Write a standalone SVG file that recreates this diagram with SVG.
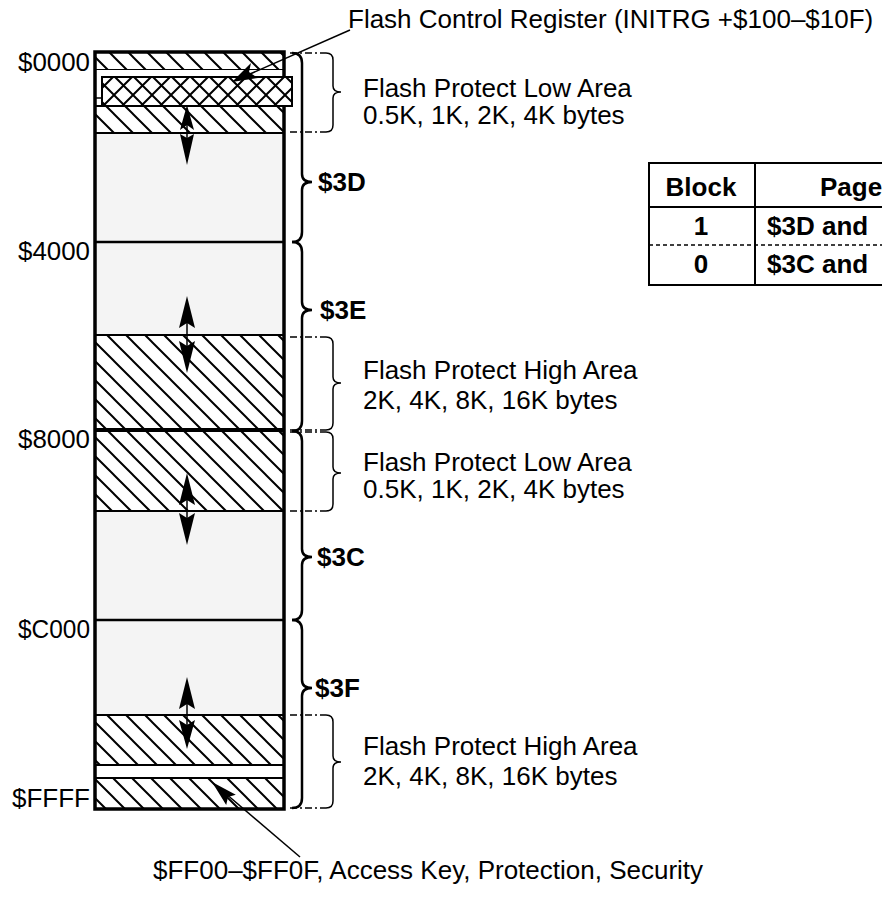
<svg xmlns="http://www.w3.org/2000/svg" width="882" height="909" viewBox="0 0 882 909">
<style>
text{font-family:"Liberation Sans",Arial,sans-serif;fill:#000}
.t{font-size:26px}
.b{font-size:26px;font-weight:bold}
.ln{stroke:#000;stroke-width:2.5;fill:none}
.thin{stroke:#000;stroke-width:1.5;fill:none}
.dd{stroke:#000;stroke-width:1.3;fill:none;stroke-dasharray:7,3,2,3}
.br{stroke:#000;stroke-width:2.5;fill:none}
.sbr{stroke:#000;stroke-width:1.5;fill:none}
.hd{fill:#000;stroke:none}
.hatch{fill:url(#h);stroke:#000;stroke-width:2}
</style>
<defs>
<pattern id="h" width="19" height="19" patternUnits="userSpaceOnUse">
<rect width="19" height="19" fill="#fff"/>
<path d="M0,0L19,19M-3,16L3,22M16,-3L22,3" stroke="#000" stroke-width="2"/>
</pattern>
<pattern id="x" width="19" height="19" patternUnits="userSpaceOnUse">
<rect width="19" height="19" fill="#fff"/>
<path d="M0,0L19,19M-3,16L3,22M16,-3L22,3M19,0L0,19M-3,3L3,-3M16,22L22,16" stroke="#000" stroke-width="2"/>
</pattern>
</defs>

<g id="memory-map">
<rect x="95" y="52" width="189" height="757" fill="#f4f4f4" stroke="none"/>
<rect class="hatch" x="95" y="52" width="189" height="18"/>
<rect x="95" y="70" width="189" height="36" fill="#fff"/>
<rect class="hatch" x="95" y="106" width="189" height="27"/>
<rect class="hatch" x="95" y="335" width="189" height="95"/>
<rect class="hatch" x="95" y="430" width="189" height="81"/>
<rect class="hatch" x="95" y="715" width="189" height="50"/>
<rect x="95" y="765" width="189" height="13" fill="#fff" stroke="#000" stroke-width="2"/>
<rect class="hatch" x="95" y="778" width="189" height="31"/>
<line class="ln" x1="95" y1="242" x2="284" y2="242"/>
<line class="ln" x1="95" y1="620" x2="284" y2="620"/>
<line x1="95" y1="430" x2="284" y2="430" stroke="#000" stroke-width="4"/>
<rect x="95" y="52" width="189" height="757" fill="none" stroke="#000" stroke-width="3.5"/>
<line class="thin" x1="95" y1="98" x2="102" y2="98"/>
<rect id="flash-control-register" x="102" y="77" width="190" height="29" fill="url(#x)" stroke="#000" stroke-width="2"/>
</g>

<g id="address-labels">
<text class="t" x="18" y="71" textLength="72" lengthAdjust="spacingAndGlyphs">$0000</text>
<text class="t" x="18" y="260" textLength="72" lengthAdjust="spacingAndGlyphs">$4000</text>
<text class="t" x="18" y="448" textLength="72" lengthAdjust="spacingAndGlyphs">$8000</text>
<text class="t" x="18" y="638" textLength="72" lengthAdjust="spacingAndGlyphs">$C000</text>
<text class="t" x="12" y="807" textLength="78" lengthAdjust="spacingAndGlyphs">$FFFF</text>
</g>

<g id="page-braces">
<path class="br" d="M292,53Q302,53 302,63L302,174Q302,182 312,182Q302,182 302,190L302,232Q302,242 292,242"/>
<path class="br" d="M292,242Q302,242 302,252L302,302Q302,310 312,310Q302,310 302,318L302,421Q302,431 292,431"/>
<path class="br" d="M292,431Q302,431 302,441L302,549Q302,557 312,557Q302,557 302,565L302,610Q302,620 292,620"/>
<path class="br" d="M292,620Q302,620 302,630L302,680Q302,688 312,688Q302,688 302,696L302,798Q302,808 292,808"/>
<text class="b" x="318" y="191">$3D</text>
<text class="b" x="320" y="319">$3E</text>
<text class="b" x="317" y="566">$3C</text>
<text class="b" x="315" y="697">$3F</text>
</g>

<g id="protect-low-1">
<line class="dd" x1="290" y1="53" x2="326" y2="53"/>
<line class="dd" x1="290" y1="132" x2="326" y2="132"/>
<path class="sbr" d="M326,53Q333,53 333,60L333,86Q333,92 341,92Q333,92 333,98L333,125Q333,132 326,132"/>
<text class="t" x="363" y="97">Flash Protect Low Area</text>
<text class="t" x="363" y="124">0.5K, 1K, 2K, 4K bytes</text>
</g>

<g id="protect-high-1">
<line class="dd" x1="290" y1="337" x2="326" y2="337"/>
<line class="dd" x1="290" y1="430" x2="326" y2="430"/>
<path class="sbr" d="M326,337Q333,337 333,344L333,377Q333,383 341,383Q333,383 333,389L333,423Q333,430 326,430"/>
<text class="t" x="363" y="379">Flash Protect High Area</text>
<text class="t" x="363" y="409">2K, 4K, 8K, 16K bytes</text>
</g>

<g id="protect-low-2">
<line class="dd" x1="290" y1="432" x2="326" y2="432"/>
<line class="dd" x1="290" y1="511" x2="326" y2="511"/>
<path class="sbr" d="M326,432Q333,432 333,439L333,467Q333,473 341,473Q333,473 333,479L333,504Q333,511 326,511"/>
<text class="t" x="363" y="471">Flash Protect Low Area</text>
<text class="t" x="363" y="498">0.5K, 1K, 2K, 4K bytes</text>
</g>

<g id="protect-high-2">
<line class="dd" x1="290" y1="715" x2="326" y2="715"/>
<line class="dd" x1="290" y1="808" x2="326" y2="808"/>
<path class="sbr" d="M326,715Q333,715 333,722L333,756Q333,762 341,762Q333,762 333,768L333,801Q333,808 326,808"/>
<text class="t" x="363" y="755">Flash Protect High Area</text>
<text class="t" x="363" y="785">2K, 4K, 8K, 16K bytes</text>
</g>

<g id="block-table">
<rect x="649" y="163" width="240" height="122" fill="#fff" stroke="#000" stroke-width="2"/>
<line x1="649" y1="207" x2="889" y2="207" stroke="#000" stroke-width="2"/>
<line x1="649" y1="245" x2="889" y2="245" stroke="#000" stroke-width="1.5" stroke-dasharray="4,3"/>
<line x1="755" y1="163" x2="755" y2="285" stroke="#000" stroke-width="2"/>
<text class="b" x="701" y="196" text-anchor="middle">Block</text>
<text class="b" x="820" y="196">Page</text>
<text class="b" x="701" y="235" text-anchor="middle">1</text>
<text class="b" x="767" y="235">$3D and</text>
<text class="b" x="701" y="273" text-anchor="middle">0</text>
<text class="b" x="767" y="273">$3C and</text>
</g>

<g id="callouts">
<text class="t" x="348" y="28">Flash Control Register (INITRG +$100–$10F)</text>
<text class="t" x="153" y="879">$FF00–$FF0F, Access Key, Protection, Security</text>
</g>

<g id="connectors">
<line class="thin" x1="350" y1="30" x2="250" y2="74"/>
<polygon class="hd" points="232,82 251,63 249,72 258,78"/>
<line class="thin" x1="300" y1="857" x2="225" y2="793"/>
<polygon class="hd" points="212,782 235.8,794.7 228,797 226.2,804.9"/>
<line class="thin" x1="187" y1="125" x2="187" y2="140"/>
<polygon class="hd" points="187,105 180,130 187,125 194,130"/>
<polygon class="hd" points="187,165 180,134 187,138 194,134"/>
<line class="thin" x1="187" y1="320" x2="187" y2="350"/>
<polygon class="hd" points="187,296 179,328 187,323 195,328"/>
<polygon class="hd" points="187,373 179,341 187,346 195,341"/>
<line class="thin" x1="187" y1="497" x2="187" y2="520"/>
<polygon class="hd" points="187,473 179,505 187,500 195,505"/>
<polygon class="hd" points="187,545 179,513 187,518 195,513"/>
<line class="thin" x1="187" y1="700" x2="187" y2="727"/>
<polygon class="hd" points="187,677 179,709 187,704 195,709"/>
<polygon class="hd" points="187,749 179,720 187,725 195,720"/>
</g>
</svg>
